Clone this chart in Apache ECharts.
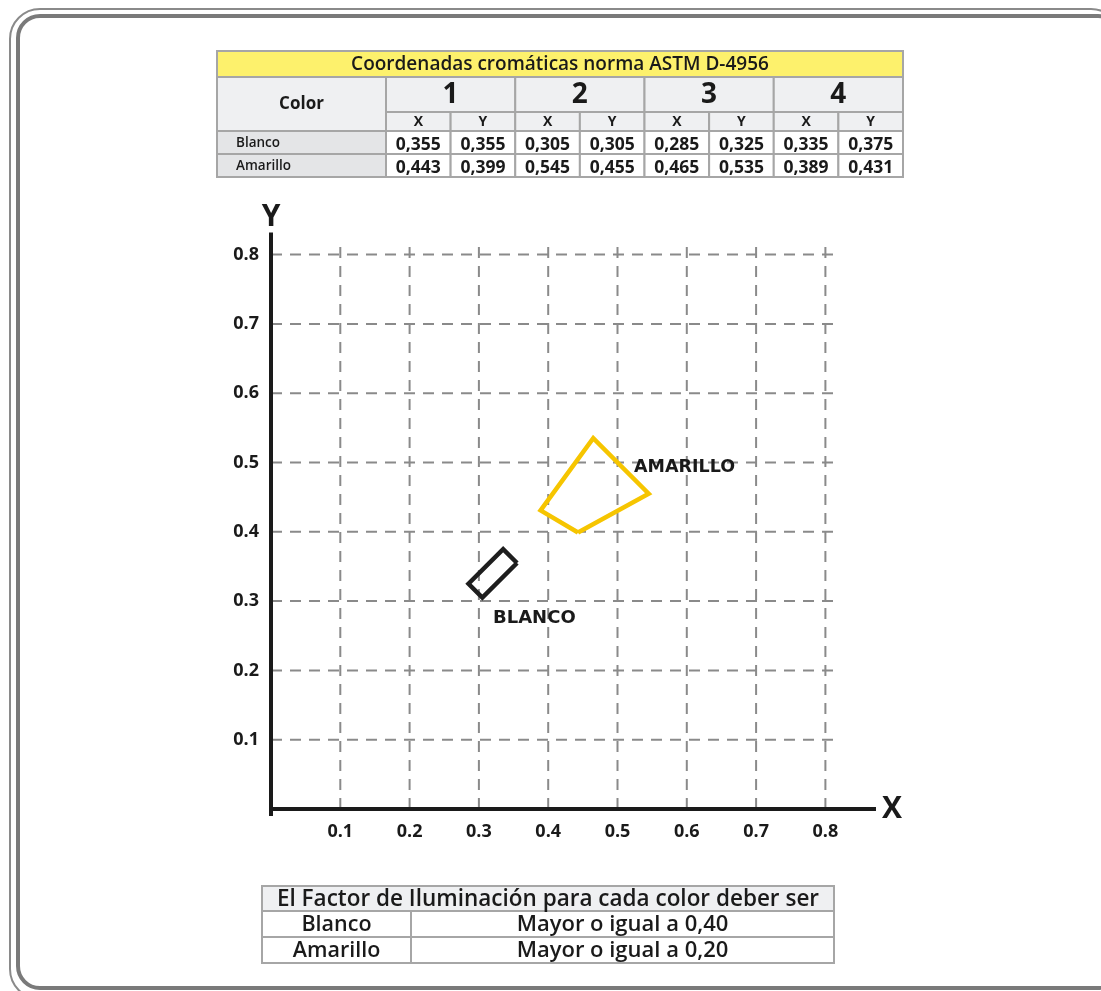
<!DOCTYPE html>
<html><head><meta charset="utf-8">
<script src="https://cdn.jsdelivr.net/npm/echarts@6/dist/echarts.min.js"></script>
<style>html,body{margin:0;padding:0;background:#fff}#c{width:1101px;height:991px}</style>
</head><body><div id="c"></div>
<script>
// ---- data ----
const tableTitle = 'Coordenadas cromáticas norma ASTM D-4956';
const colorHeader = 'Color';
const pointNums = ['1', '2', '3', '4'];
const coordLabels = ['X', 'Y'];
const colorNames = ['Blanco', 'Amarillo'];
const blancoX = [0.355, 0.305, 0.285, 0.335];
const blancoY = [0.355, 0.305, 0.325, 0.375];
const amarilloX = [0.443, 0.545, 0.465, 0.389];
const amarilloY = [0.399, 0.455, 0.535, 0.431];
const xTicks = [0.1, 0.2, 0.3, 0.4, 0.5, 0.6, 0.7, 0.8];
const yTicks = [0.1, 0.2, 0.3, 0.4, 0.5, 0.6, 0.7, 0.8];
const polyLabels = ['BLANCO', 'AMARILLO'];
const factorTitle = 'El Factor de Iluminación para cada color deber ser';
const factorNames = ['Blanco', 'Amarillo'];
const factorValues = ['Mayor o igual a 0,40', 'Mayor o igual a 0,20'];

// ---- build ----
const chart = echarts.init(document.getElementById('c'), null, {renderer: 'canvas'});
const fmt = v => v.toFixed(3).replace('.', ',');
const FONT = '"Open Sans", sans-serif';
const BORDER = '#a6a6a6';
const g = [];

// frame
g.push({type: 'rect', shape: {x: 10, y: 9, width: 1111, height: 990, r: 30}, style: {fill: null, stroke: '#8a8a8a', lineWidth: 2}, z: 1});
g.push({type: 'rect', shape: {x: 18, y: 16, width: 1102, height: 972, r: 22}, style: {fill: null, stroke: '#7a7a7a', lineWidth: 4}, z: 1});

function cell(x, y, w, h, fill) {
  g.push({type: 'rect', shape: {x: x, y: y, width: w, height: h}, style: {fill: fill, stroke: BORDER, lineWidth: 2}, z: 2});
}
function txt(x, y, s, font, align, vAlign) {
  g.push({type: 'text', style: {x: x, y: y, text: s, font: font, fill: '#1a1a1a', textAlign: align || 'center', textVerticalAlign: vAlign || 'middle'}, z: 3});
}

// top table
const T = {x0: 217, x1: 386, x2: 903, r: [51, 77, 112, 131, 154, 177]};
const gw = (T.x2 - T.x1) / pointNums.length;
cell(T.x0, T.r[0], T.x2 - T.x0, T.r[1] - T.r[0], '#fdf16c');
txt((T.x0 + T.x2) / 2, (T.r[0] + T.r[1]) / 2 + 1, tableTitle, '600 19px ' + FONT);
cell(T.x0, T.r[1], T.x1 - T.x0, T.r[3] - T.r[1], '#eff0f2');
txt((T.x0 + T.x1) / 2, (T.r[1] + T.r[3]) / 2, colorHeader, 'bold 17px ' + FONT);
pointNums.forEach((n, i) => {
  const x = T.x1 + i * gw;
  cell(x, T.r[1], gw, T.r[2] - T.r[1], '#eff0f2');
  txt(x + gw / 2, (T.r[1] + T.r[2]) / 2 + 1, n, 'bold 28px ' + FONT);
  coordLabels.forEach((c, j) => {
    cell(x + j * gw / 2, T.r[2], gw / 2, T.r[3] - T.r[2], '#eff0f2');
    txt(x + j * gw / 2 + gw / 4, (T.r[2] + T.r[3]) / 2 + 1, c, 'bold 14px ' + FONT);
  });
});
const rowsX = [blancoX, amarilloX], rowsY = [blancoY, amarilloY];
colorNames.forEach((name, r) => {
  const y0 = T.r[3 + r], y1 = T.r[4 + r];
  cell(T.x0, y0, T.x1 - T.x0, y1 - y0, '#e4e5e7');
  txt(T.x0 + 19, (y0 + y1) / 2 + 1, name, '600 13.5px ' + FONT, 'left');
  pointNums.forEach((n, i) => {
    const x = T.x1 + i * gw;
    [rowsX[r][i], rowsY[r][i]].forEach((v, j) => {
      cell(x + j * gw / 2, y0, gw / 2, y1 - y0, '#ffffff');
      txt(x + j * gw / 2 + gw / 4, (y0 + y1) / 2 + 3, fmt(v), 'bold 17.5px ' + FONT);
    });
  });
});

// bottom table
const B = {x0: 262, x1: 411, x2: 834, r: [886, 911, 937, 963]};
cell(B.x0, B.r[0], B.x2 - B.x0, B.r[1] - B.r[0], '#eff0f2');
txt((B.x0 + B.x2) / 2, (B.r[0] + B.r[1]) / 2 + 1, factorTitle, '600 22.5px ' + FONT);
factorNames.forEach((n, i) => {
  const y0 = B.r[1 + i], y1 = B.r[2 + i];
  cell(B.x0, y0, B.x1 - B.x0, y1 - y0, '#ffffff');
  cell(B.x1, y0, B.x2 - B.x1, y1 - y0, '#ffffff');
  txt((B.x0 + B.x1) / 2, (y0 + y1) / 2 + 1, n, '600 21.5px ' + FONT);
  txt((B.x1 + B.x2) / 2, (y0 + y1) / 2 + 1, factorValues[i], '600 22px ' + FONT);
});

// polygon labels
txt(634, 467, polyLabels[1], 'bold 17.5px "DejaVu Sans", sans-serif', 'left');
txt(493, 618, polyLabels[0], 'bold 18px "DejaVu Sans", sans-serif', 'left');

// series
const series = [];
const gridExt = 0.815;
const xEnd = 0.873, yEnd = 0.832;
const dash = {color: '#8a8a8a', width: 2, type: [11, 8]};
yTicks.forEach(t => series.push({type: 'line', data: [[0, t], [gridExt, t]], symbol: 'none', silent: true, clip: false, lineStyle: dash, z: 1}));
xTicks.forEach(t => series.push({type: 'line', data: [[t, 0], [t, gridExt]], symbol: 'none', silent: true, clip: false, lineStyle: dash, z: 1}));
const axisStyle = {color: '#1a1a1a', width: 4};
series.push({type: 'line', data: [[-0.012, 0], [xEnd, 0]], symbol: 'none', silent: true, clip: false, lineStyle: axisStyle, z: 3});
series.push({type: 'line', data: [[0, -0.01], [0, yEnd]], symbol: 'none', silent: true, clip: false, lineStyle: axisStyle, z: 3});
function poly(xs, ys) { const d = xs.map((x, i) => [x, ys[i]]); d.push(d[0]); return d; }
series.push({name: 'Blanco', type: 'line', data: poly(blancoX, blancoY), symbol: 'none', clip: false, lineStyle: {color: '#1e1e1e', width: 4.5, join: 'miter'}, z: 4});
series.push({name: 'Amarillo', type: 'line', data: poly(amarilloX, amarilloY), symbol: 'none', clip: false, lineStyle: {color: '#f6c500', width: 4.5, join: 'miter'}, z: 4});

const unit = 693; // px per 1.0
const tickFmt = ticks => v => (ticks.some(t => Math.abs(t - v) < 1e-9) ? v.toFixed(1) : '');
const labelStyle = {color: '#1a1a1a', fontFamily: FONT, fontWeight: 'bold', fontSize: 18};
chart.setOption({
  animation: false,
  grid: {left: 271, top: 809 - yEnd * unit, width: xEnd * unit, height: yEnd * unit, containLabel: false},
  xAxis: {type: 'value', min: 0, max: xEnd, interval: 0.1,
    name: 'X', nameLocation: 'end', nameGap: 6, nameTextStyle: {color: '#1a1a1a', fontSize: 30, fontFamily: FONT, fontWeight: 'bold', verticalAlign: 'middle'},
    axisLine: {show: false}, axisTick: {show: false}, splitLine: {show: false},
    axisLabel: {...labelStyle, margin: 14, formatter: tickFmt(xTicks)}},
  yAxis: {type: 'value', min: 0, max: yEnd, interval: 0.1,
    name: 'Y', nameLocation: 'end', nameGap: 0, nameTextStyle: {color: '#1a1a1a', fontSize: 30, fontFamily: FONT, fontWeight: 'bold', align: 'center'},
    axisLine: {show: false}, axisTick: {show: false}, splitLine: {show: false},
    axisLabel: {...labelStyle, margin: 12, formatter: tickFmt(yTicks)}},
  series: series,
  graphic: {elements: g}
});
</script></body></html>
